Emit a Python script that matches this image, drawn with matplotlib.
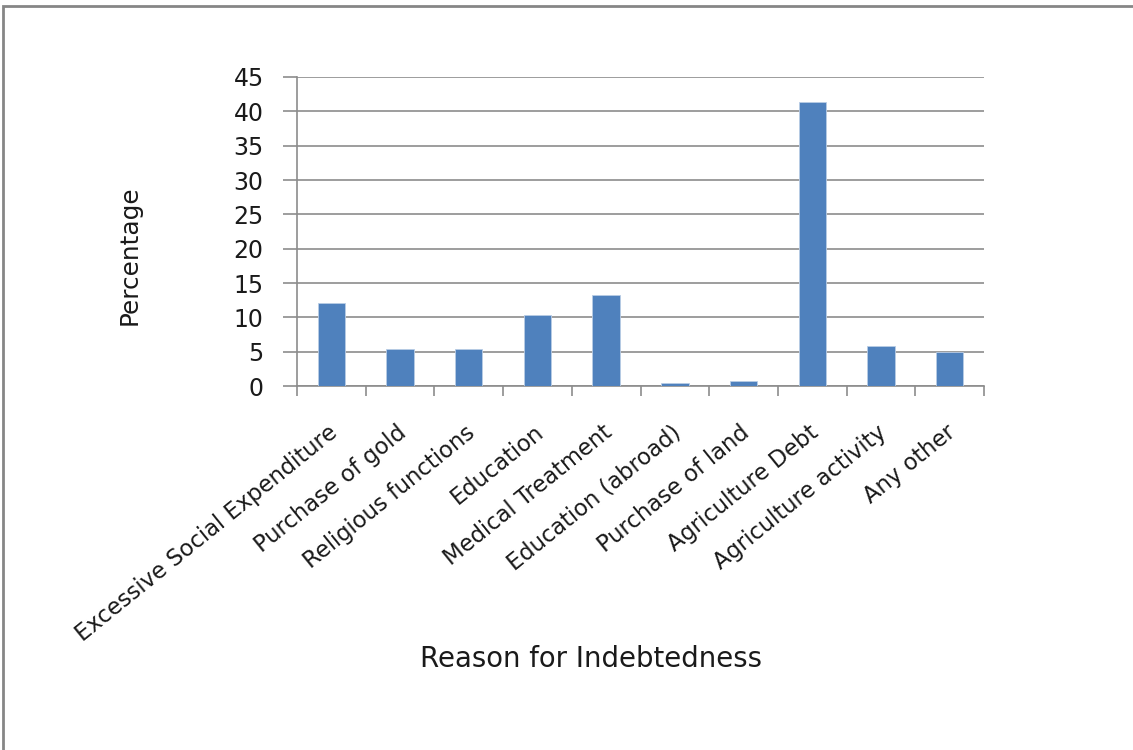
import matplotlib
matplotlib.use("Agg")
import matplotlib.pyplot as plt
from matplotlib.patches import Rectangle
from matplotlib.transforms import ScaledTranslation
import numpy as np

categories = [
    "Excessive Social Expenditure", "Purchase of gold", "Religious functions",
    "Education", "Medical Treatment", "Education (abroad)", "Purchase of land",
    "Agriculture Debt", "Agriculture activity", "Any other",
]
percentages = [12.1, 5.4, 5.4, 10.3, 13.25, 0.4, 0.8, 41.3, 5.8, 5.0]
y_ticks = [0, 5, 10, 15, 20, 25, 30, 35, 40, 45]

plt.rcParams["font.family"] = ["DejaVu Sans"]
TEXT = "#1a1a1a"

W, H = 1133, 750
fig = plt.figure(figsize=(W / 100, H / 100), dpi=100)

# outer chart frame
fig.patches.append(Rectangle((3 / W, -0.1), 1.2, (H - 6) / H + 0.1,
                             transform=fig.transFigure, fill=False,
                             edgecolor="#868686", linewidth=2.0))

left, right, top, bottom = 297, 984, 77, 386
ax = fig.add_axes([left / W, 1 - bottom / H, (right - left) / W, (bottom - top) / H])

x = np.arange(len(categories))
ax.bar(x, percentages, width=0.4, color="#4F81BD", edgecolor="#B9CDE5",
       linewidth=0.6, zorder=3)

ax.set_xlim(-0.5, len(categories) - 0.5)
ax.set_ylim(0, 45)
ax.set_yticks(y_ticks)
ax.yaxis.grid(True, color="#8C8C8C", linewidth=1.2, zorder=0)
ax.set_axisbelow(True)

for s in ["top", "right"]:
    ax.spines[s].set_visible(False)
for s in ["left", "bottom"]:
    ax.spines[s].set_color("#8C8C8C")
    ax.spines[s].set_linewidth(1.2)

ax.tick_params(axis="y", length=10, width=1.2, color="#8C8C8C",
               labelsize=17, labelcolor=TEXT, pad=14)

# category boundaries carry the tick marks, centres carry the labels
ax.set_xticks(np.arange(len(categories) + 1) - 0.5, minor=False)
ax.set_xticklabels([])
ax.tick_params(axis="x", which="major", length=7, width=1.2, color="#8C8C8C")
ax.set_xticks(x, minor=True)
ax.set_xticklabels(categories, minor=True, rotation=39, ha="right",
                   rotation_mode="anchor", fontsize=16.3, color=TEXT)
ax.tick_params(axis="x", which="minor", length=0, pad=25)
shift = ScaledTranslation(-0.04, 0, fig.dpi_scale_trans)
for lab in ax.xaxis.get_minorticklabels():
    lab.set_transform(lab.get_transform() + shift)

fig.text(591 / W, 1 - 659 / H, "Reason for Indebtedness", ha="center",
         va="center", fontsize=19.8, color=TEXT)
fig.text(130 / W, 1 - 255 / H, "Percentage", ha="center", va="center",
         rotation=90, fontsize=17.8, color=TEXT)

fig.savefig("out.png", dpi=100, facecolor="white")
